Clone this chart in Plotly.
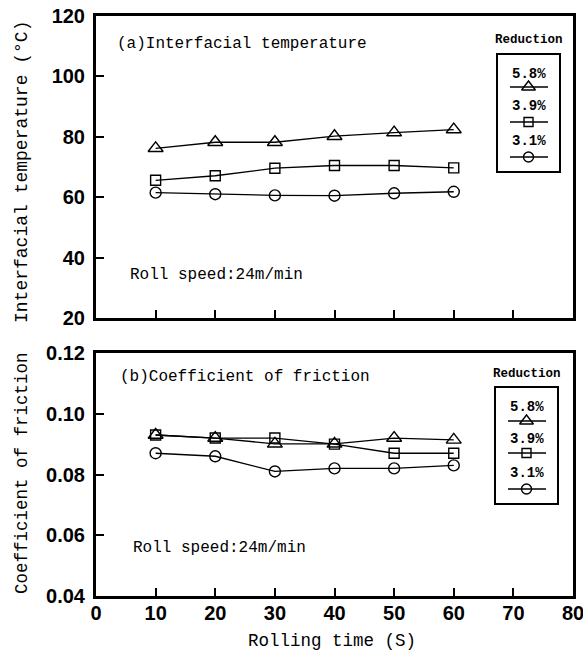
import plotly.graph_objects as go

# ---------------- data ----------------
time_s = [10, 20, 30, 40, 50, 60]
series_labels = ["5.8%", "3.9%", "3.1%"]
temp_58 = [76.2, 78.2, 78.2, 80.2, 81.4, 82.4]
temp_39 = [65.6, 67.1, 69.6, 70.5, 70.5, 69.7]
temp_31 = [61.5, 61.0, 60.6, 60.5, 61.3, 61.8]
fric_58 = [0.0930, 0.0920, 0.0901, 0.0901, 0.0920, 0.0914]
fric_39 = [0.0930, 0.0920, 0.0920, 0.0900, 0.0870, 0.0870]
fric_31 = [0.0870, 0.0860, 0.0810, 0.0820, 0.0820, 0.0830]
x_ticks = [0, 10, 20, 30, 40, 50, 60, 70, 80]
temp_ticks = [20, 40, 60, 80, 100, 120]
fric_ticks = [0.04, 0.06, 0.08, 0.10, 0.12]

# ---------------- style ----------------
W, H = 583, 657
TXT = "Liberation Mono, DejaVu Sans Mono, monospace"
TICKF = "Liberation Sans, Arial, sans-serif"
symbols = ["triangle-up-open", "square-open", "circle-open"]
msizes = [13, 10, 11]
LW = 1.3

# plot areas in pixels
PX_L, PX_R = 96, 573
TOP_T, TOP_B = 16, 318
BOT_T, BOT_B = 353, 596


def dom_x(a, b):
    return [a / W, b / W]


def dom_y(t, b):
    return [1 - b / H, 1 - t / H]


fig = go.Figure()

top_series = [temp_58, temp_39, temp_31]
bot_series = [fric_58, fric_39, fric_31]
for i, ys in enumerate(top_series):
    fig.add_trace(go.Scatter(x=time_s, y=ys, mode="lines+markers", xaxis="x", yaxis="y",
                             line=dict(color="black", width=LW),
                             marker=dict(symbol=symbols[i], size=msizes[i], color="black",
                                         line=dict(width=1.4, color="black")),
                             showlegend=False))
for i, ys in enumerate(bot_series):
    fig.add_trace(go.Scatter(x=time_s, y=ys, mode="lines+markers", xaxis="x2", yaxis="y2",
                             line=dict(color="black", width=LW),
                             marker=dict(symbol=symbols[i], size=msizes[i], color="black",
                                         line=dict(width=1.4, color="black")),
                             showlegend=False))

axis_common = dict(showline=True, linecolor="black", linewidth=3, mirror=True,
                   ticks="inside", ticklen=8, tickwidth=2, tickcolor="black",
                   showgrid=False, zeroline=False, automargin=False,
                   ticklabeloverflow="allow",
                   tickfont=dict(family=TICKF, size=20, color="black", weight="bold"))

fig.update_layout(
    width=W, height=H, margin=dict(l=0, r=0, t=0, b=0, autoexpand=False),
    paper_bgcolor="white", plot_bgcolor="rgba(0,0,0,0)", showlegend=False,
    xaxis=dict(domain=dom_x(PX_L, PX_R), anchor="y", range=[0, 80], tickvals=x_ticks,
               showticklabels=False, **axis_common),
    yaxis=dict(domain=dom_y(TOP_T, TOP_B), anchor="x", range=[20, 120], tickvals=temp_ticks,
               ticklabelstandoff=4, **axis_common),
    xaxis2=dict(domain=dom_x(PX_L, PX_R), anchor="y2", range=[0, 80], tickvals=x_ticks,
                ticklabelstandoff=-3, **axis_common),
    yaxis2=dict(domain=dom_y(BOT_T, BOT_B), anchor="x2", range=[0.04, 0.12], tickvals=fric_ticks,
                tickformat=".2f", ticklabelstandoff=4, **axis_common),
    # pixel overlay for decorations
    xaxis3=dict(domain=[0, 1], range=[0, W], visible=False, anchor="y3", fixedrange=True,
                automargin=False),
    yaxis3=dict(domain=[0, 1], range=[H, 0], visible=False, anchor="x3", fixedrange=True,
                automargin=False),
)

annotations = []
shapes = []


def txt(x, y, s, size, xanchor="left", angle=0, family=TXT, weight="normal"):
    annotations.append(dict(x=x / W, y=1 - y / H, xref="paper", yref="paper", text=s,
                            showarrow=False, xanchor=xanchor, yanchor="middle", textangle=angle,
                            font=dict(family=family, size=size, color="black", weight=weight)))


# panel texts
txt(115, 44, "(a)Interfacial temperature", 16)
txt(128, 275, "Roll speed:24m/min", 16)
txt(118, 377, "(b)Coefficient of friction", 16)
txt(131, 548, "Roll speed:24m/min", 16)
# axis titles
txt(22, 172, "Interfacial temperature (°C)", 18, xanchor="center", angle=-90)
txt(22, 473, "Coefficient of friction", 17.5, xanchor="center", angle=-90)
txt(332, 641, "Rolling time (S)", 17.5, xanchor="center")

# custom legends
legend_specs = [
    dict(title_y=40, box=(497, 54, 560, 172), label_y=[74, 106, 141], line_y=[87, 122, 157]),
    dict(title_y=374, box=(495, 387, 558, 504), label_y=[407, 439, 473], line_y=[421, 453, 489]),
]
for spec in legend_specs:
    x0, y0, x1, y1 = spec["box"]
    xc = (x0 + x1) / 2
    txt(xc, spec["title_y"], "Reduction", 12.5, xanchor="center", weight="bold")
    shapes.append(dict(type="rect", xref="x3", yref="y3", x0=x0, y0=y0, x1=x1, y1=y1,
                       line=dict(color="black", width=2)))
    for i, lab in enumerate(series_labels):
        txt(xc, spec["label_y"][i], lab, 14, xanchor="center", weight="bold")
        ly = spec["line_y"][i]
        shapes.append(dict(type="line", xref="x3", yref="y3", x0=x0 + 13, x1=x1 - 12,
                           y0=ly, y1=ly, line=dict(color="black", width=LW)))
        fig.add_trace(go.Scatter(x=[xc], y=[ly], mode="markers",
                                 xaxis="x3", yaxis="y3",
                                 marker=dict(symbol=symbols[i], size=msizes[i] - 1, color="black",
                                             line=dict(width=1.4, color="black")),
                                 showlegend=False, hoverinfo="skip"))

fig.update_layout(annotations=annotations, shapes=shapes)
fig.write_html("out.html")
